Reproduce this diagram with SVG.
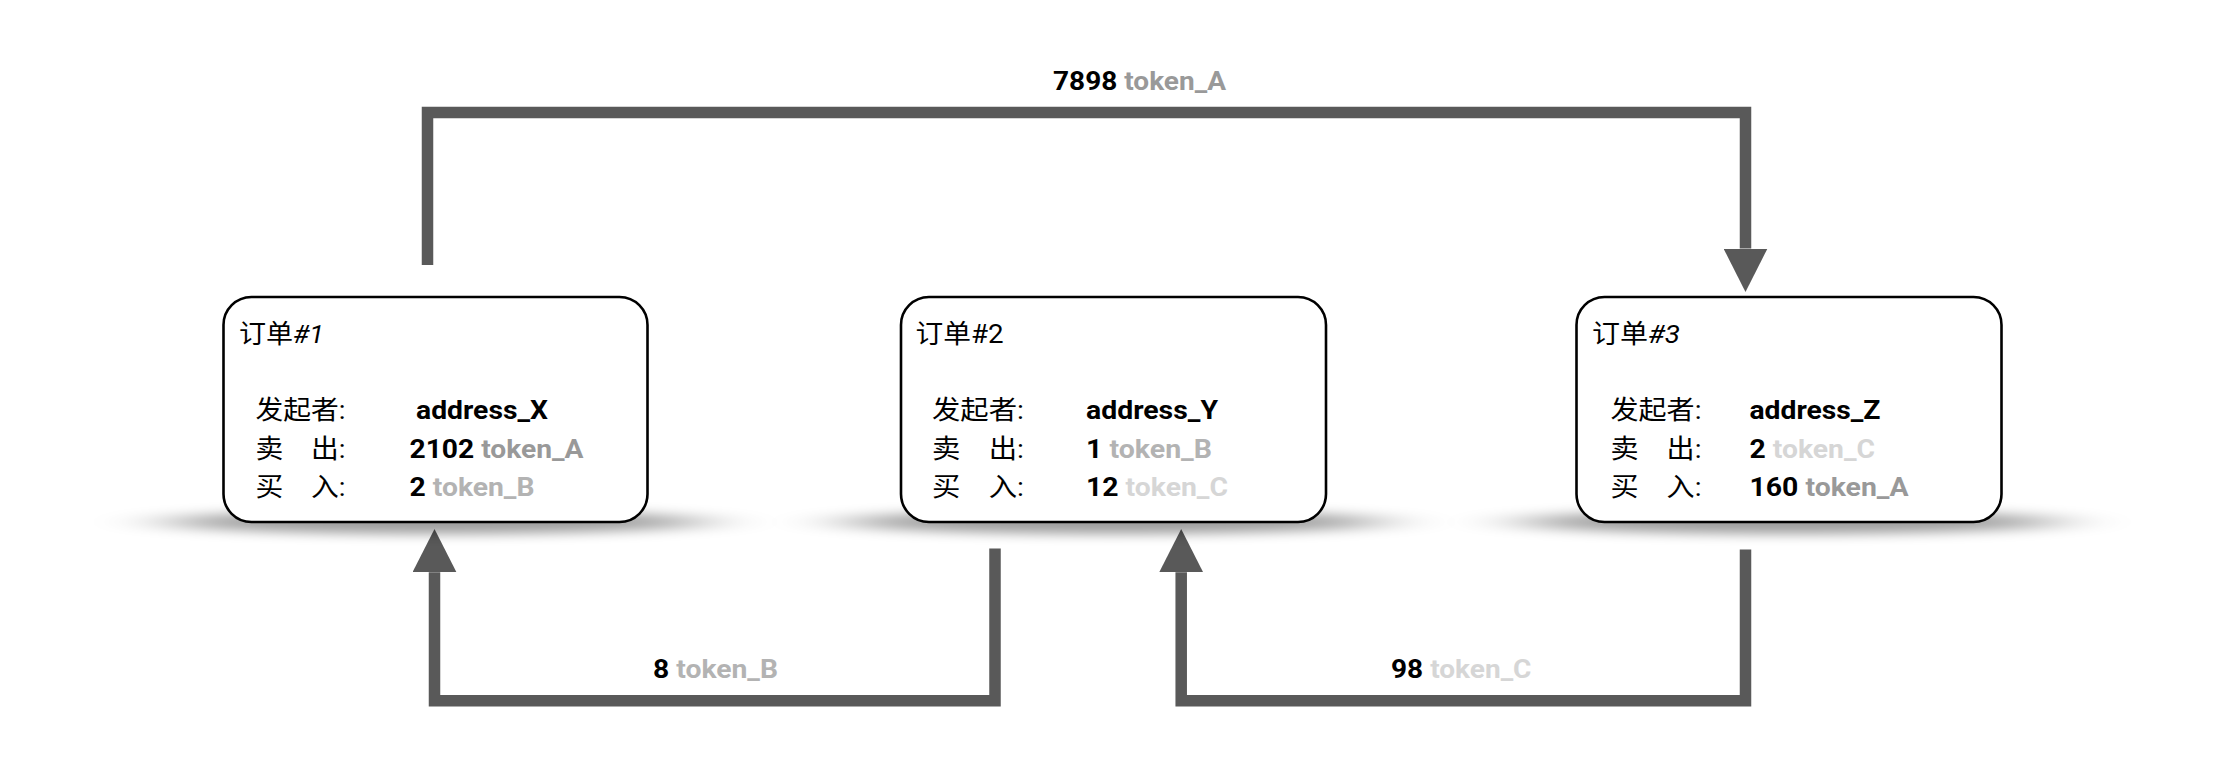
<svg xmlns="http://www.w3.org/2000/svg" width="2223" height="759" viewBox="0 0 2223 759">
  <style>
    .t { font-family: Roboto, "Noto Sans CJK SC", sans-serif; font-size: 26px; fill: #000; }
    .b { font-weight: bold; }
    .i { font-style: italic; }
    .ta { fill: #999999; }
    .tb { fill: #b3b3b3; }
    .tc { fill: #d6d6d6; }
    .box { fill: #ffffff; stroke: #000000; stroke-width: 2.6; }
    .shadow { fill: #000000; opacity: 0.38; filter: url(#blur); }
    .conn { fill: none; stroke: #595959; stroke-width: 11.5; stroke-linejoin: miter; marker-end: url(#arrow); }
  </style>
  <defs>
    <filter id="blur" x="-50%" y="-300%" width="200%" height="700%">
      <feGaussianBlur stdDeviation="40 6"/>
    </filter>
    <marker id="arrow" markerUnits="userSpaceOnUse" viewBox="0 0 44 44" markerWidth="44" markerHeight="44" refX="0" refY="22" orient="auto">
      <path d="M0,0 L43.4,22 L0,44 Z" fill="#595959"/>
    </marker>
  </defs>
  <rect width="2223" height="759" fill="#ffffff"/>

  <g id="connectors">
    <path class="conn" d="M427.5,265 V112.5 H1745.5 V248.5"/>
    <path class="conn" d="M995,548.5 V700.8 H434.5 V572.3"/>
    <path class="conn" d="M1745.5,549.5 V700.8 H1181.2 V572.3"/>
    <text class="t b" x="1053" y="90" textLength="173" lengthAdjust="spacingAndGlyphs">7898<tspan class="ta"> token_A</tspan></text>
    <text class="t b" x="653" y="677.5" textLength="125" lengthAdjust="spacingAndGlyphs">8<tspan class="tb"> token_B</tspan></text>
    <text class="t b" x="1391" y="677.5" textLength="140.5" lengthAdjust="spacingAndGlyphs">98<tspan class="tc"> token_C</tspan></text>
  </g>

  <g id="node1">
    <ellipse class="shadow" cx="435.5" cy="522" rx="270" ry="12"/>
    <rect class="box" x="223.5" y="297" width="424" height="225" rx="28" ry="28"/>
    <text class="t" x="239" y="343" textLength="85" lengthAdjust="spacingAndGlyphs">订单<tspan class="i">#1</tspan></text>
    <text class="t" x="255.5" y="419" textLength="90" lengthAdjust="spacingAndGlyphs">发起者:</text>
    <text class="t" x="255.5" y="457.5" textLength="90" lengthAdjust="spacingAndGlyphs">卖　出:</text>
    <text class="t" x="255.5" y="496" textLength="90" lengthAdjust="spacingAndGlyphs">买　入:</text>
    <text class="t b" x="416" y="419" textLength="132" lengthAdjust="spacingAndGlyphs">address_X</text>
    <text class="t b" x="409.5" y="457.5" textLength="174" lengthAdjust="spacingAndGlyphs">2102<tspan class="ta"> token_A</tspan></text>
    <text class="t b" x="409.5" y="496" textLength="125" lengthAdjust="spacingAndGlyphs">2<tspan class="tb"> token_B</tspan></text>
  </g>

  <g id="node2">
    <ellipse class="shadow" cx="1113.5" cy="522" rx="270" ry="12"/>
    <rect class="box" x="901" y="297" width="425" height="225" rx="28" ry="28"/>
    <text class="t" x="915.5" y="343" textLength="88" lengthAdjust="spacingAndGlyphs">订单#2</text>
    <text class="t" x="932" y="419" textLength="92" lengthAdjust="spacingAndGlyphs">发起者:</text>
    <text class="t" x="932" y="457.5" textLength="92" lengthAdjust="spacingAndGlyphs">卖　出:</text>
    <text class="t" x="932" y="496" textLength="92" lengthAdjust="spacingAndGlyphs">买　入:</text>
    <text class="t b" x="1086" y="419" textLength="132" lengthAdjust="spacingAndGlyphs">address_Y</text>
    <text class="t b" x="1086" y="457.5" textLength="126" lengthAdjust="spacingAndGlyphs">1<tspan class="tb"> token_B</tspan></text>
    <text class="t b" x="1086" y="496" textLength="142" lengthAdjust="spacingAndGlyphs">12<tspan class="tc"> token_C</tspan></text>
  </g>

  <g id="node3">
    <ellipse class="shadow" cx="1789" cy="522" rx="270" ry="12"/>
    <rect class="box" x="1576.5" y="297" width="425" height="225" rx="28" ry="28"/>
    <text class="t" x="1592" y="343" textLength="88" lengthAdjust="spacingAndGlyphs">订单<tspan class="i">#3</tspan></text>
    <text class="t" x="1610.5" y="419" textLength="91" lengthAdjust="spacingAndGlyphs">发起者:</text>
    <text class="t" x="1610.5" y="457.5" textLength="91" lengthAdjust="spacingAndGlyphs">卖　出:</text>
    <text class="t" x="1610.5" y="496" textLength="91" lengthAdjust="spacingAndGlyphs">买　入:</text>
    <text class="t b" x="1749.5" y="419" textLength="131" lengthAdjust="spacingAndGlyphs">address_Z</text>
    <text class="t b" x="1749.5" y="457.5" textLength="125.5" lengthAdjust="spacingAndGlyphs">2<tspan class="tc"> token_C</tspan></text>
    <text class="t b" x="1749.5" y="496" textLength="159" lengthAdjust="spacingAndGlyphs">160<tspan class="ta"> token_A</tspan></text>
  </g>
</svg>
